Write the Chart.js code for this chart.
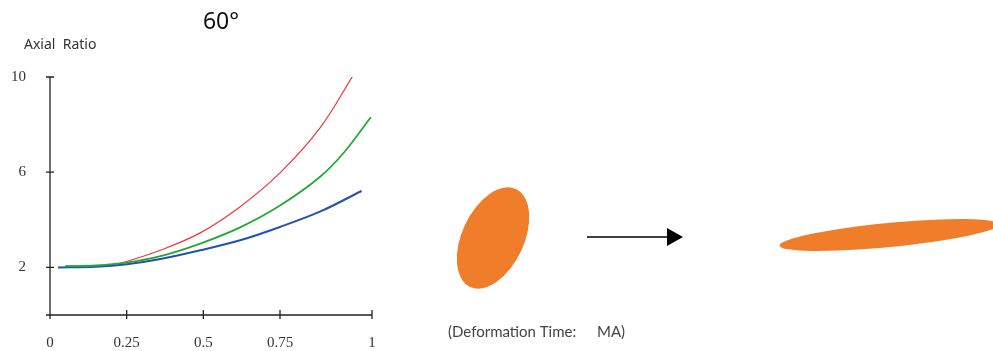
<!DOCTYPE html>
<html>
<head>
<meta charset="utf-8">
<script src="https://cdn.jsdelivr.net/npm/chart.js@4"></script>
<style>
  html, body { margin: 0; padding: 0; background: #fff; }
  #wrap { width: 993px; height: 351px; }
</style>
</head>
<body>
<div id="wrap"><canvas id="ratioChart" width="993" height="351"></canvas></div>
<script>
// Axial ratio vs. x, three curves
const redX   = [0.05, 0.15, 0.20, 0.25, 0.36, 0.49, 0.62, 0.75, 0.88, 0.99];
const redY   = [2.05, 2.07, 2.10, 2.25, 2.72, 3.45, 4.55, 5.97, 7.85, 10.1];
const greenX = [0.05, 0.15, 0.25, 0.36, 0.49, 0.62, 0.75, 0.88, 0.96, 1.046];
const greenY = [2.05, 2.08, 2.20, 2.47, 3.00, 3.68, 4.60, 5.80, 6.85, 8.31];
const blueX  = [0.026, 0.15, 0.25, 0.36, 0.49, 0.62, 0.75, 0.88, 1.016];
const blueY  = [2.00, 2.03, 2.13, 2.35, 2.72, 3.14, 3.70, 4.34, 5.21];

const xTickValues = [0, 0.25, 0.5, 0.75, 1.05];
const xTickLabels = ['0', '0.25', '0.5', '0.75', '1'];
const yTickValues = [2, 6, 10];
const yTickLabels = ['2', '6', '10'];

const toPoints = (xs, ys) => xs.map((x, i) => ({ x: x, y: ys[i] }));

// axes, tick marks and the side drawing
const extras = {
    id: 'extras',
    afterDraw(chart) {
        const c = chart.ctx;
        const xs = chart.scales.x, ys = chart.scales.y;
        const left = xs.getPixelForValue(0), bottom = ys.getPixelForValue(0);
        c.save();
        c.strokeStyle = '#222';
        c.lineWidth = 1.3;
        c.beginPath();
        c.moveTo(left, ys.getPixelForValue(10));
        c.lineTo(left, bottom + 4);
        c.moveTo(left - 4, bottom);
        c.lineTo(xs.getPixelForValue(1.05), bottom);
        [0].concat(yTickValues).forEach(v => {
            const y = ys.getPixelForValue(v);
            c.moveTo(left - 4, y);
            c.lineTo(left + 4, y);
        });
        xTickValues.slice(1).forEach(v => {
            const x = xs.getPixelForValue(v);
            c.moveTo(x, bottom - 5);
            c.lineTo(x, bottom + 4);
        });
        c.stroke();

        // titles
        c.fillStyle = '#111';
        c.font = '23px "Noto Sans"';
        c.textAlign = 'center';
        c.textBaseline = 'middle';
        c.fillText('60°', 221, 22);
        c.fillStyle = '#333';
        c.font = '14px "Noto Sans"';
        c.textAlign = 'left';
        c.fillText('Axial  Ratio', 24, 45);

        // ellipses and arrow
        c.fillStyle = '#ef7d2a';
        c.beginPath();
        c.ellipse(493, 238, 54, 31, -65 * Math.PI / 180, 0, Math.PI * 2);
        c.fill();
        c.beginPath();
        c.ellipse(889, 235, 110, 12, -5.5 * Math.PI / 180, 0, Math.PI * 2);
        c.fill();

        c.strokeStyle = '#000';
        c.lineWidth = 1.6;
        c.beginPath();
        c.moveTo(587, 237);
        c.lineTo(670, 237);
        c.stroke();
        c.fillStyle = '#000';
        c.beginPath();
        c.moveTo(667, 228);
        c.lineTo(683, 237);
        c.lineTo(667, 246);
        c.closePath();
        c.fill();

        c.fillStyle = '#444';
        c.font = '15px Lato';
        c.textBaseline = 'middle';
        c.fillText('(Deformation Time:', 448, 332);
        c.fillText('MA)', 597, 332);
        c.restore();
    }
};

const ctx = document.getElementById('ratioChart').getContext('2d');
const ratioChart = new Chart(ctx, {
    type: 'scatter',
    data: {
        datasets: [
            { label: 'green', data: toPoints(greenX, greenY), borderColor: '#25a836', borderWidth: 1.8 },
            { label: 'blue',  data: toPoints(blueX, blueY),   borderColor: '#2450b0', borderWidth: 2 },
            { label: 'red',   data: toPoints(redX, redY),     borderColor: '#f0363e', borderWidth: 1.2 }
        ].map(d => Object.assign(d, {
            showLine: true, pointRadius: 0, fill: false, tension: 0.35
        }))
    },
    options: {
        responsive: false,
        animation: false,
        devicePixelRatio: 1,
        layout: { padding: { left: 0, right: 621, top: 77, bottom: 0 } },
        plugins: { legend: { display: false }, tooltip: { enabled: false } },
        scales: {
            x: {
                type: 'linear', min: 0, max: 1.05,
                afterFit: s => { s.height = 36; },
                afterBuildTicks: s => { s.ticks = xTickValues.map(v => ({ value: v })); },
                grid: { display: false }, border: { display: false },
                ticks: {
                    padding: 11, color: '#333', maxRotation: 0,
                    font: { family: '"Liberation Serif"', size: 15 },
                    callback: (v) => xTickLabels[xTickValues.indexOf(v)]
                }
            },
            y: {
                type: 'linear', min: 0, max: 10,
                afterFit: s => { s.width = 50; },
                afterBuildTicks: s => { s.ticks = yTickValues.map(v => ({ value: v })); },
                grid: { display: false }, border: { display: false },
                ticks: {
                    padding: 16, color: '#333',
                    font: { family: '"Liberation Serif"', size: 15 },
                    callback: (v) => yTickLabels[yTickValues.indexOf(v)]
                }
            }
        }
    },
    plugins: [extras]
});
</script>
</body>
</html>
